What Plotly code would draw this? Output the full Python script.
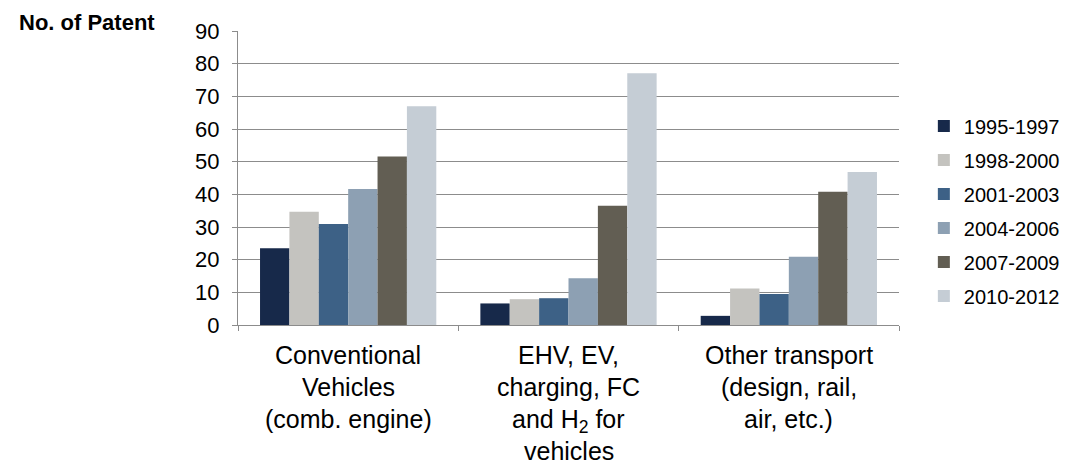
import plotly.graph_objects as go

categories = ["Conventional", "EHV", "Other"]
cat_lines = [
    ["Conventional", "Vehicles", "(comb. engine)"],
    ["EHV, EV,", "charging, FC", "and H<sub>2</sub> for", "vehicles"],
    ["Other transport", "(design, rail,", "air, etc.)"],
]

periods = ["1995-1997", "1998-2000", "2001-2003", "2004-2006", "2007-2009", "2010-2012"]
colors = ["#17294A", "#C4C3BF", "#3D6186", "#8DA0B3", "#625E53", "#C5CDD5"]

v_values = {
    "1995-1997": [23.5, 6.6, 2.8],
    "1998-2000": [34.7, 7.9, 11.2],
    "2001-2003": [30.9, 8.2, 9.5],
    "2004-2006": [41.6, 14.3, 20.9],
    "2007-2009": [51.6, 36.5, 40.8],
    "2010-2012": [67.0, 77.1, 46.8],
}

font = "Liberation Sans, Arial, sans-serif"

# page body has an 8px margin, so the figure is a bit smaller than the window
W, H = 1069, 455
L, R, T, B = 230, 174, 23, 138
pw, ph = W - L - R, H - T - B

fig = go.Figure()
for i, p in enumerate(periods):
    fig.add_trace(go.Bar(
        x=categories, y=v_values[p], name=p,
        marker=dict(color=colors[i], line=dict(width=0)),
        legendgroup=p,
    ))

# category labels, one annotation per line for Excel-like spacing
for c, lines in zip(categories, cat_lines):
    for j, line in enumerate(lines):
        fig.add_annotation(
            x=c, y=0, xref="x", yref="paper", yanchor="top",
            yshift=-14 - 32 * j, text=line, showarrow=False,
            font=dict(family=font, size=25, color="black"),
        )

fig.add_annotation(
    x=(8 - L) / pw, y=1 + 9 / ph, xref="paper", yref="paper",
    text="<b>No. of Patent</b>", showarrow=False,
    xanchor="left", yanchor="middle",
    font=dict(family=font, size=22, color="black"),
)

fig.update_layout(
    width=W, height=H,
    margin=dict(l=L, r=R, t=T, b=B),
    paper_bgcolor="white", plot_bgcolor="white",
    barmode="group", bargap=0.2, bargroupgap=0,
    font=dict(family=font, size=18, color="black"),
    showlegend=True,
    legend=dict(
        x=(928 - 8 - L) / pw, y=0.388, xanchor="left", yanchor="middle",
        traceorder="grouped", tracegroupgap=5,
        font=dict(family=font, size=20, color="black"),
        itemwidth=30,
    ),
    xaxis=dict(
        showticklabels=False, ticks="outside", tickson="boundaries",
        ticklen=5, tickcolor="#8C8C8C", showline=True, linecolor="#8C8C8C",
        linewidth=1, showgrid=False,
    ),
    yaxis=dict(
        range=[0, 90], dtick=10, ticks="outside", ticklen=5,
        tickcolor="#8C8C8C", showline=True, linecolor="#8C8C8C", linewidth=1,
        showgrid=True, gridcolor="#8C8C8C", gridwidth=1, zeroline=False,
        ticklabelstandoff=8,
        tickfont=dict(family=font, size=22, color="black"),
    ),
)

fig.write_html("out.html")
